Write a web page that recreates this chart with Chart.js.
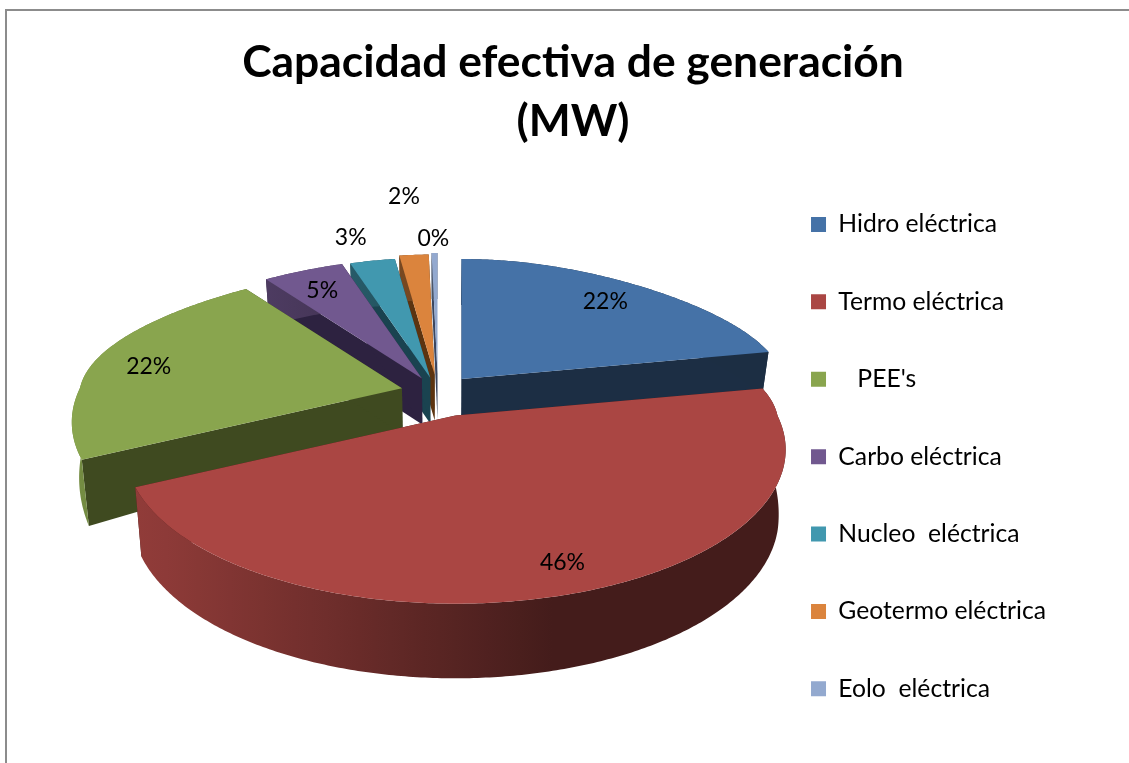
<!DOCTYPE html>
<html>
<head>
<meta charset="utf-8">
<title>Capacidad efectiva de generación</title>
<script src="https://cdn.jsdelivr.net/npm/chart.js@4"></script>
<style>
  html, body { margin: 0; background: #fff; overflow: hidden; }
  #frame { position: absolute; left: 5px; top: 9px; right: 0; bottom: 0; border-top: 2px solid #8c8c8c; border-left: 2px solid #8c8c8c; }
  canvas { position: absolute; left: 0; top: 0; }
</style>
</head>
<body>
<div id="frame"></div>
<canvas id="chart" width="1129" height="763"></canvas>
<script>
var titleLines = ["Capacidad efectiva de generación", "(MW)"];
var categories = ["Hidro eléctrica", "Termo eléctrica", "   PEE's", "Carbo eléctrica", "Nucleo  eléctrica", "Geotermo eléctrica", "Eolo  eléctrica"];
var values = [22, 46, 22, 5, 3, 2, 0.4];
var colors = ["#4572A7", "#AA4643", "#89A54E", "#71588F", "#4198AF", "#DB843D", "#93A9CF"];
var cutColors = ["#1c2e44", "#451b18", "#3f4a20", "#2d2240", "#1a4350", "#5c3410", "#3a4660"];

// how far each slice is pulled out, as a fraction of the radius
var explode = [0.115, 0.17, 0.115, 0.105, 0.1, 0.12, 0.13];
// label placement: fraction along the radius, then a nudge in pixels
var labelRadius = [0.78, 0.827, 0.76, 0.76, 1.1, 1.1, 1.1];
var labelNudge = [[6, 0], [4, 8], [-21, 3], [-2, -2], [-19, -14], [-9, -49], [-1, -5]];

// view of the tilted pie
var view = { cx: 438, cy: 392, a: 322, b: 146.5, k: 0.221 };

function depthAt(ny) {
  if (ny < 0) return 46;
  if (ny < 0.45) return 46 + 22 * (ny / 0.45);
  return 68 + 7 * Math.min(1, (ny - 0.45) / 0.75);
}

// lx, ly: position inside the slice; ox, oy: the slice's own pull-out
function project(lx, ly, ox, oy, lower) {
  var w = 1 - view.k * ly;
  // the far side narrows faster than the near side widens
  var wx = ly < 0 ? 1 - 0.1 * ly + 0.27 * ly * ly : w;
  var x = view.cx + view.a * ox + view.a * lx / wx;
  var y = view.cy + view.b * oy + view.b * ly / w;
  if (lower) {
    x += (view.cx - x) * 0.02;
    y += depthAt(ly + oy);
  }
  return { x: x, y: y };
}

function shade(hex, f) {
  var n = parseInt(hex.slice(1), 16);
  return "rgb(" + Math.round((n >> 16) * f) + "," + Math.round(((n >> 8) & 255) * f) + "," + Math.round((n & 255) * f) + ")";
}

function fillPoly(ctx, pts, fill) {
  ctx.beginPath();
  pts.forEach(function(p, i) {
    if (i === 0) ctx.moveTo(p.x, p.y); else ctx.lineTo(p.x, p.y);
  });
  ctx.closePath();
  ctx.fillStyle = fill;
  ctx.fill();
}

function drawSlice(ctx, arc, i) {
  var p = arc.getProps(["startAngle", "endAngle"], true);
  var mid = (p.startAngle + p.endAngle) / 2;
  var ox = explode[i] * Math.cos(mid);
  var oy = explode[i] * Math.sin(mid);
  var steps = Math.max(4, Math.ceil((p.endAngle - p.startAngle) / 0.01));
  var rimTop = [], rimLow = [], n;
  for (n = 0; n <= steps; n++) {
    var a = p.startAngle + (p.endAngle - p.startAngle) * n / steps;
    rimTop.push(project(Math.cos(a), Math.sin(a), ox, oy));
    rimLow.push(project(Math.cos(a), Math.sin(a), ox, oy, true));
  }
  var apex = project(0, 0, ox, oy), apexLow = project(0, 0, ox, oy, true);

  // the two cut faces
  fillPoly(ctx, [apex, rimTop[0], rimLow[0], apexLow], cutColors[i]);
  fillPoly(ctx, [apex, rimTop[steps], rimLow[steps], apexLow], cutColors[i]);

  // outer wall, lighter on the left and dark from the middle to the right
  var grad = ctx.createLinearGradient(apex.x - view.a, 0, apex.x + view.a, 0);
  for (n = 0; n <= 20; n++) {
    var f = Math.max(0.4, Math.min(0.85, 0.83 - (n / 10 - 1 + 0.9) * 0.358));
    grad.addColorStop(n / 20, shade(colors[i], f));
  }
  fillPoly(ctx, rimTop.concat(rimLow.slice().reverse()), grad);

  // top face
  fillPoly(ctx, [apex].concat(rimTop), colors[i]);
}

function drawLabel(ctx, arc, i) {
  var p = arc.getProps(["startAngle", "endAngle"], true);
  var mid = (p.startAngle + p.endAngle) / 2;
  var pos = project(labelRadius[i] * Math.cos(mid), labelRadius[i] * Math.sin(mid),
    explode[i] * Math.cos(mid), explode[i] * Math.sin(mid));
  ctx.fillStyle = "#000";
  ctx.font = "23px Lato";
  ctx.textAlign = "center";
  ctx.textBaseline = "middle";
  ctx.fillText(Math.round(values[i]) + "%", pos.x + labelNudge[i][0], pos.y + labelNudge[i][1]);
}

var tiltedPie = {
  id: "tiltedPie",
  beforeDatasetsDraw: function(chart) {
    var ctx = chart.ctx;
    var arcs = chart.getDatasetMeta(0).data;
    ctx.save();
    // far slices first, the big front one last
    [6, 5, 4, 3, 0, 2, 1].forEach(function(i) { drawSlice(ctx, arcs[i], i); });
    arcs.forEach(function(arc, i) { drawLabel(ctx, arc, i); });
    ctx.restore();
    return false;
  }
};

new Chart(document.getElementById("chart"), {
  type: "pie",
  data: {
    labels: categories,
    datasets: [{ data: values, backgroundColor: colors, borderWidth: 0 }]
  },
  plugins: [tiltedPie],
  options: {
    responsive: false,
    animation: false,
    layout: { padding: { left: 90, right: 73, top: 34, bottom: 0 } },
    plugins: {
      tooltip: { enabled: false },
      title: {
        display: true,
        text: titleLines,
        color: "#000",
        font: { family: "Lato", size: 44.4, weight: "bold", lineHeight: 1.31 },
        padding: { top: 0, bottom: 0 }
      },
      legend: {
        position: "right",
        fullSize: false,
        labels: {
          color: "#000",
          font: { family: "Lato", size: 24.7 },
          boxWidth: 15,
          boxHeight: 15,
          padding: 52.7
        }
      }
    }
  }
});
</script>
</body>
</html>
